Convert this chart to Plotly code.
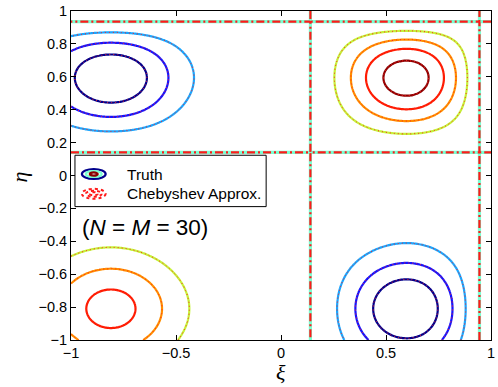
import numpy as np
import plotly.graph_objects as go

# ---- data ----
x_zeros = [0.14, 0.945]          # zero lines of the xi-profile
y_zeros = [0.14, 0.935]          # zero lines of the eta-profile
bump_amp = [1.20, 14.0]          # amplitude of the two profile bumps
bump_center = [-0.7105, 0.668]   # bump centres
bump_width = [0.35, 0.45]        # bump widths
levels = [-3, -2, -1, 0, 1, 2, 3, 4]
level_colors = ['#00008c', '#1414ff', '#1aa6ff', '#7affd2',
                '#c6f23a', '#ff8f00', '#ff1c00', '#8c0000']
x_ticks = [-1, -0.5, 0, 0.5, 1]
x_ticktext = ['\u22121', '\u22120.5', '0', '0.5', '1']
y_ticks = [-1, -0.8, -0.6, -0.4, -0.2, 0, 0.2, 0.4, 0.6, 0.8, 1]
y_ticktext = ['\u22121', '\u22120.8', '\u22120.6', '\u22120.4', '\u22120.2',
              '0', '0.2', '0.4', '0.6', '0.8', '1']
legend_labels = ['Truth', 'Chebyshev Approx.']
note_text = '(<i>N</i> = <i>M</i> = 30)'


def profile(t, zeros):
    f = -(t - zeros[0]) * (t - zeros[1])
    h = np.zeros_like(t)
    for a, c, w in zip(bump_amp, bump_center, bump_width):
        h = h + a * np.exp(-((t - c) / w) ** 2)
    return f * h


xs = np.linspace(-1, 1, 301)
ys = np.linspace(-1, 1, 301)
gx = profile(xs, x_zeros)
gy = profile(ys, y_zeros)
Z = np.outer(gy, gx)

fig = go.Figure()


def add_level(z, lev, color, width, dash):
    fig.add_trace(go.Contour(
        x=xs, y=ys, z=z,
        contours=dict(start=lev, end=lev, size=1, coloring='none'),
        line=dict(color=color, width=width, dash=dash, smoothing=1),
        showscale=False, showlegend=False, hoverinfo='skip'))


# truth contours
for lev, col in zip(levels, level_colors):
    add_level(Z, lev, col, 3.2 if lev == 0 else 2.2, 'solid')

# Chebyshev approximation contours (overlaid)
for lev in levels:
    if lev == 0:
        add_level(Z, lev, '#ff1a1a', 2.2, '8px,3px,2px,3px')
    else:
        add_level(Z, lev, '#ff2020', 1, '1px,3px')

# ---- layout ----
L, R, T, B = 71, 3, 7, 47
W, H = 498, 387
pw, ph = W - L - R, H - T - B


def px2paper(px, py):
    return (px - L) / pw, (H - B - py) / ph


shapes = []
# legend box
x0, y0 = px2paper(75, 205)
x1, y1 = px2paper(268, 153)
shapes.append(dict(type='rect', xref='paper', yref='paper', x0=x0, y0=y0,
                   x1=x1, y1=y1, line=dict(color='black', width=1),
                   fillcolor='white', layer='above'))
# truth icon (concentric ellipses)
for (hw, hh, col) in [(12, 5, '#00008c'), (8, 3, '#7affd2'), (4, 1.6, '#8c0000')]:
    a0, b0 = px2paper(94 - hw, 172 + hh)
    a1, b1 = px2paper(94 + hw, 172 - hh)
    shapes.append(dict(type='circle', xref='paper', yref='paper', x0=a0, y0=b0,
                       x1=a1, y1=b1, line=dict(color=col, width=2.2), layer='above'))
# approx icon (dashed red ellipses)
for (hw, hh) in [(12, 5), (8, 3), (4, 1.6)]:
    a0, b0 = px2paper(94 - hw, 192 + hh)
    a1, b1 = px2paper(94 + hw, 192 - hh)
    shapes.append(dict(type='circle', xref='paper', yref='paper', x0=a0, y0=b0,
                       x1=a1, y1=b1, line=dict(color='#ff1a1a', width=2, dash='3px,3px'),
                       layer='above'))

annotations = []
for txt, py in zip(legend_labels, [172, 192]):
    ax, ay = px2paper(126, py)
    annotations.append(dict(text=txt, xref='paper', yref='paper', x=ax, y=ay,
                            xanchor='left', yanchor='middle', showarrow=False,
                            font=dict(size=15.5, color='black',
                                      family='Liberation Sans, Arial, sans-serif')))
ax, ay = px2paper(80, 226)
annotations.append(dict(text=note_text, xref='paper', yref='paper', x=ax, y=ay,
                        xanchor='left', yanchor='middle', showarrow=False,
                        font=dict(size=22.5, color='black',
                                  family='Liberation Sans, Arial, sans-serif')))
ax, ay = px2paper(283, 373)
annotations.append(dict(text='<i>\u03be</i>', xref='paper', yref='paper', x=ax, y=ay,
                        xanchor='center', yanchor='middle', showarrow=False,
                        font=dict(size=22, color='black',
                                  family='Liberation Serif, Times New Roman, serif')))
ax, ay = px2paper(20, 175)
annotations.append(dict(text='<i>\u03b7</i>', xref='paper', yref='paper', x=ax, y=ay,
                        xanchor='center', yanchor='middle', showarrow=False,
                        textangle=-90,
                        font=dict(size=22, color='black',
                                  family='Liberation Serif, Times New Roman, serif')))

axis_common = dict(showgrid=False, zeroline=False, showline=True, linecolor='black',
                   linewidth=1, mirror='ticks', ticks='inside', ticklen=5,
                   tickcolor='black', tickwidth=1, ticklabeloverflow='allow',
                   tickfont=dict(size=14.5, color='black',
                                 family='Liberation Sans, Arial, sans-serif'))

fig.update_layout(
    width=W, height=H,
    margin=dict(l=L, r=R, t=T, b=B),
    paper_bgcolor='white', plot_bgcolor='white',
    xaxis=dict(range=[-1, 1], tickvals=x_ticks, ticktext=x_ticktext, **axis_common),
    yaxis=dict(range=[-1, 1], tickvals=y_ticks, ticktext=y_ticktext, **axis_common),
    shapes=shapes, annotations=annotations, showlegend=False,
)

fig.write_html('out.html')
